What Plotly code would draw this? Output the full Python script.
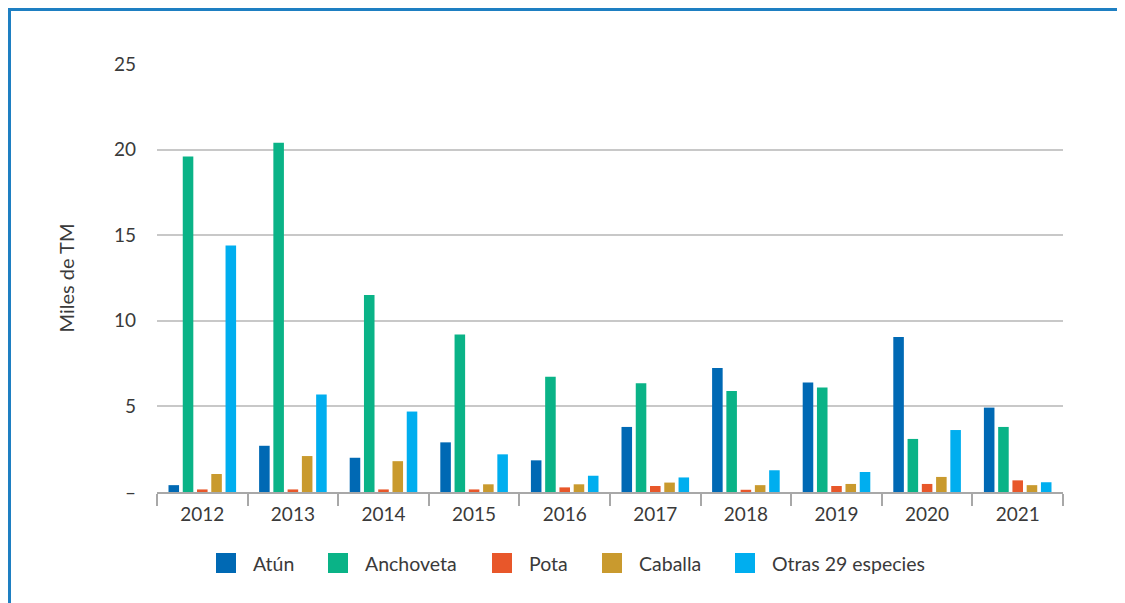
import plotly.graph_objects as go

years = ["2012", "2013", "2014", "2015", "2016", "2017", "2018", "2019", "2020", "2021"]
atun = [0.4, 2.7, 2.0, 2.9, 1.85, 3.8, 7.25, 6.4, 9.05, 4.93]
anchoveta = [19.6, 20.4, 11.5, 9.2, 6.73, 6.35, 5.9, 6.1, 3.1, 3.8]
pota = [0.15, 0.15, 0.15, 0.15, 0.27, 0.35, 0.13, 0.35, 0.47, 0.68]
caballa = [1.05, 2.1, 1.8, 0.45, 0.45, 0.55, 0.4, 0.47, 0.88, 0.4]
otras = [14.4, 5.7, 4.7, 2.2, 0.95, 0.85, 1.27, 1.17, 3.62, 0.57]

series_names = ["Atún", "Anchoveta", "Pota", "Caballa", "Otras 29 especies"]
series_values = [atun, anchoveta, pota, caballa, otras]
series_colors = ["#0069b4", "#0ab387", "#e8572a", "#c99a2e", "#00aeef"]

ytickvals = [0, 5, 10, 15, 20, 25]
yticktext = ["–", "5", "10", "15", "20", "25"]

fig = go.Figure()
for name, vals, color in zip(series_names, series_values, series_colors):
    fig.add_trace(go.Bar(x=years, y=vals, name=name, marker=dict(color=color, line=dict(width=0))))

font_color = "#3a3a3a"
L, T, PW, PH = 149, 56, 906, 428

# custom legend (page x of each swatch's left edge, page y of legend centre)
legend_x = [216, 328, 492, 602, 735]
legend_cy = 563
page_off = 8  # body margin of the html page


def px_x(page_x):
    return (page_x - page_off - L) / PW


def px_y(page_y):
    return (T + PH - (page_y - page_off)) / PH


shapes = [dict(type="rect", xref="paper", yref="paper",
               x0=(1.5 - L) / PW, x1=1.3, y0=-0.5, y1=(PH + T - 1.5) / PH,
               line=dict(color="#1e7fc2", width=3), fillcolor="rgba(0,0,0,0)", layer="below")]
annotations = []
for name, color, lx in zip(series_names, series_colors, legend_x):
    shapes.append(dict(type="rect", xref="paper", yref="paper",
                       x0=px_x(lx), x1=px_x(lx + 20), y0=px_y(legend_cy + 10), y1=px_y(legend_cy - 10),
                       line=dict(width=0), fillcolor=color))
    annotations.append(dict(text=name, xref="paper", yref="paper", x=px_x(lx + 35), y=px_y(legend_cy),
                            xanchor="left", yanchor="middle", showarrow=False,
                            font=dict(size=19.5, color=font_color)))

fig.update_layout(
    width=1125, height=603,
    margin=dict(l=L, r=1125 - L - PW, t=T, b=603 - T - PH),
    paper_bgcolor="white", plot_bgcolor="white",
    font=dict(family="Lato, Open Sans, sans-serif", color=font_color, size=19),
    barmode="group", bargap=0.213, bargroupgap=0.26,
    showlegend=False,
    xaxis=dict(showline=True, linecolor="#a8a8a8", linewidth=2, ticks="outside",
               tickson="boundaries", ticklen=12, tickcolor="#a8a8a8", tickwidth=2,
               ticklabelstandoff=4,
               tickfont=dict(size=19, color=font_color), showgrid=False),
    yaxis=dict(range=[0, 25], tickvals=ytickvals, ticktext=yticktext,
               showgrid=True, gridcolor="#c8c8c8", gridwidth=2, zeroline=False,
               tickfont=dict(size=19, color=font_color), ticklabelstandoff=20,
               title=dict(text="Miles de TM", font=dict(size=20, color=font_color), standoff=33)),
    shapes=shapes,
    annotations=annotations,
)

fig.write_html("out.html")
